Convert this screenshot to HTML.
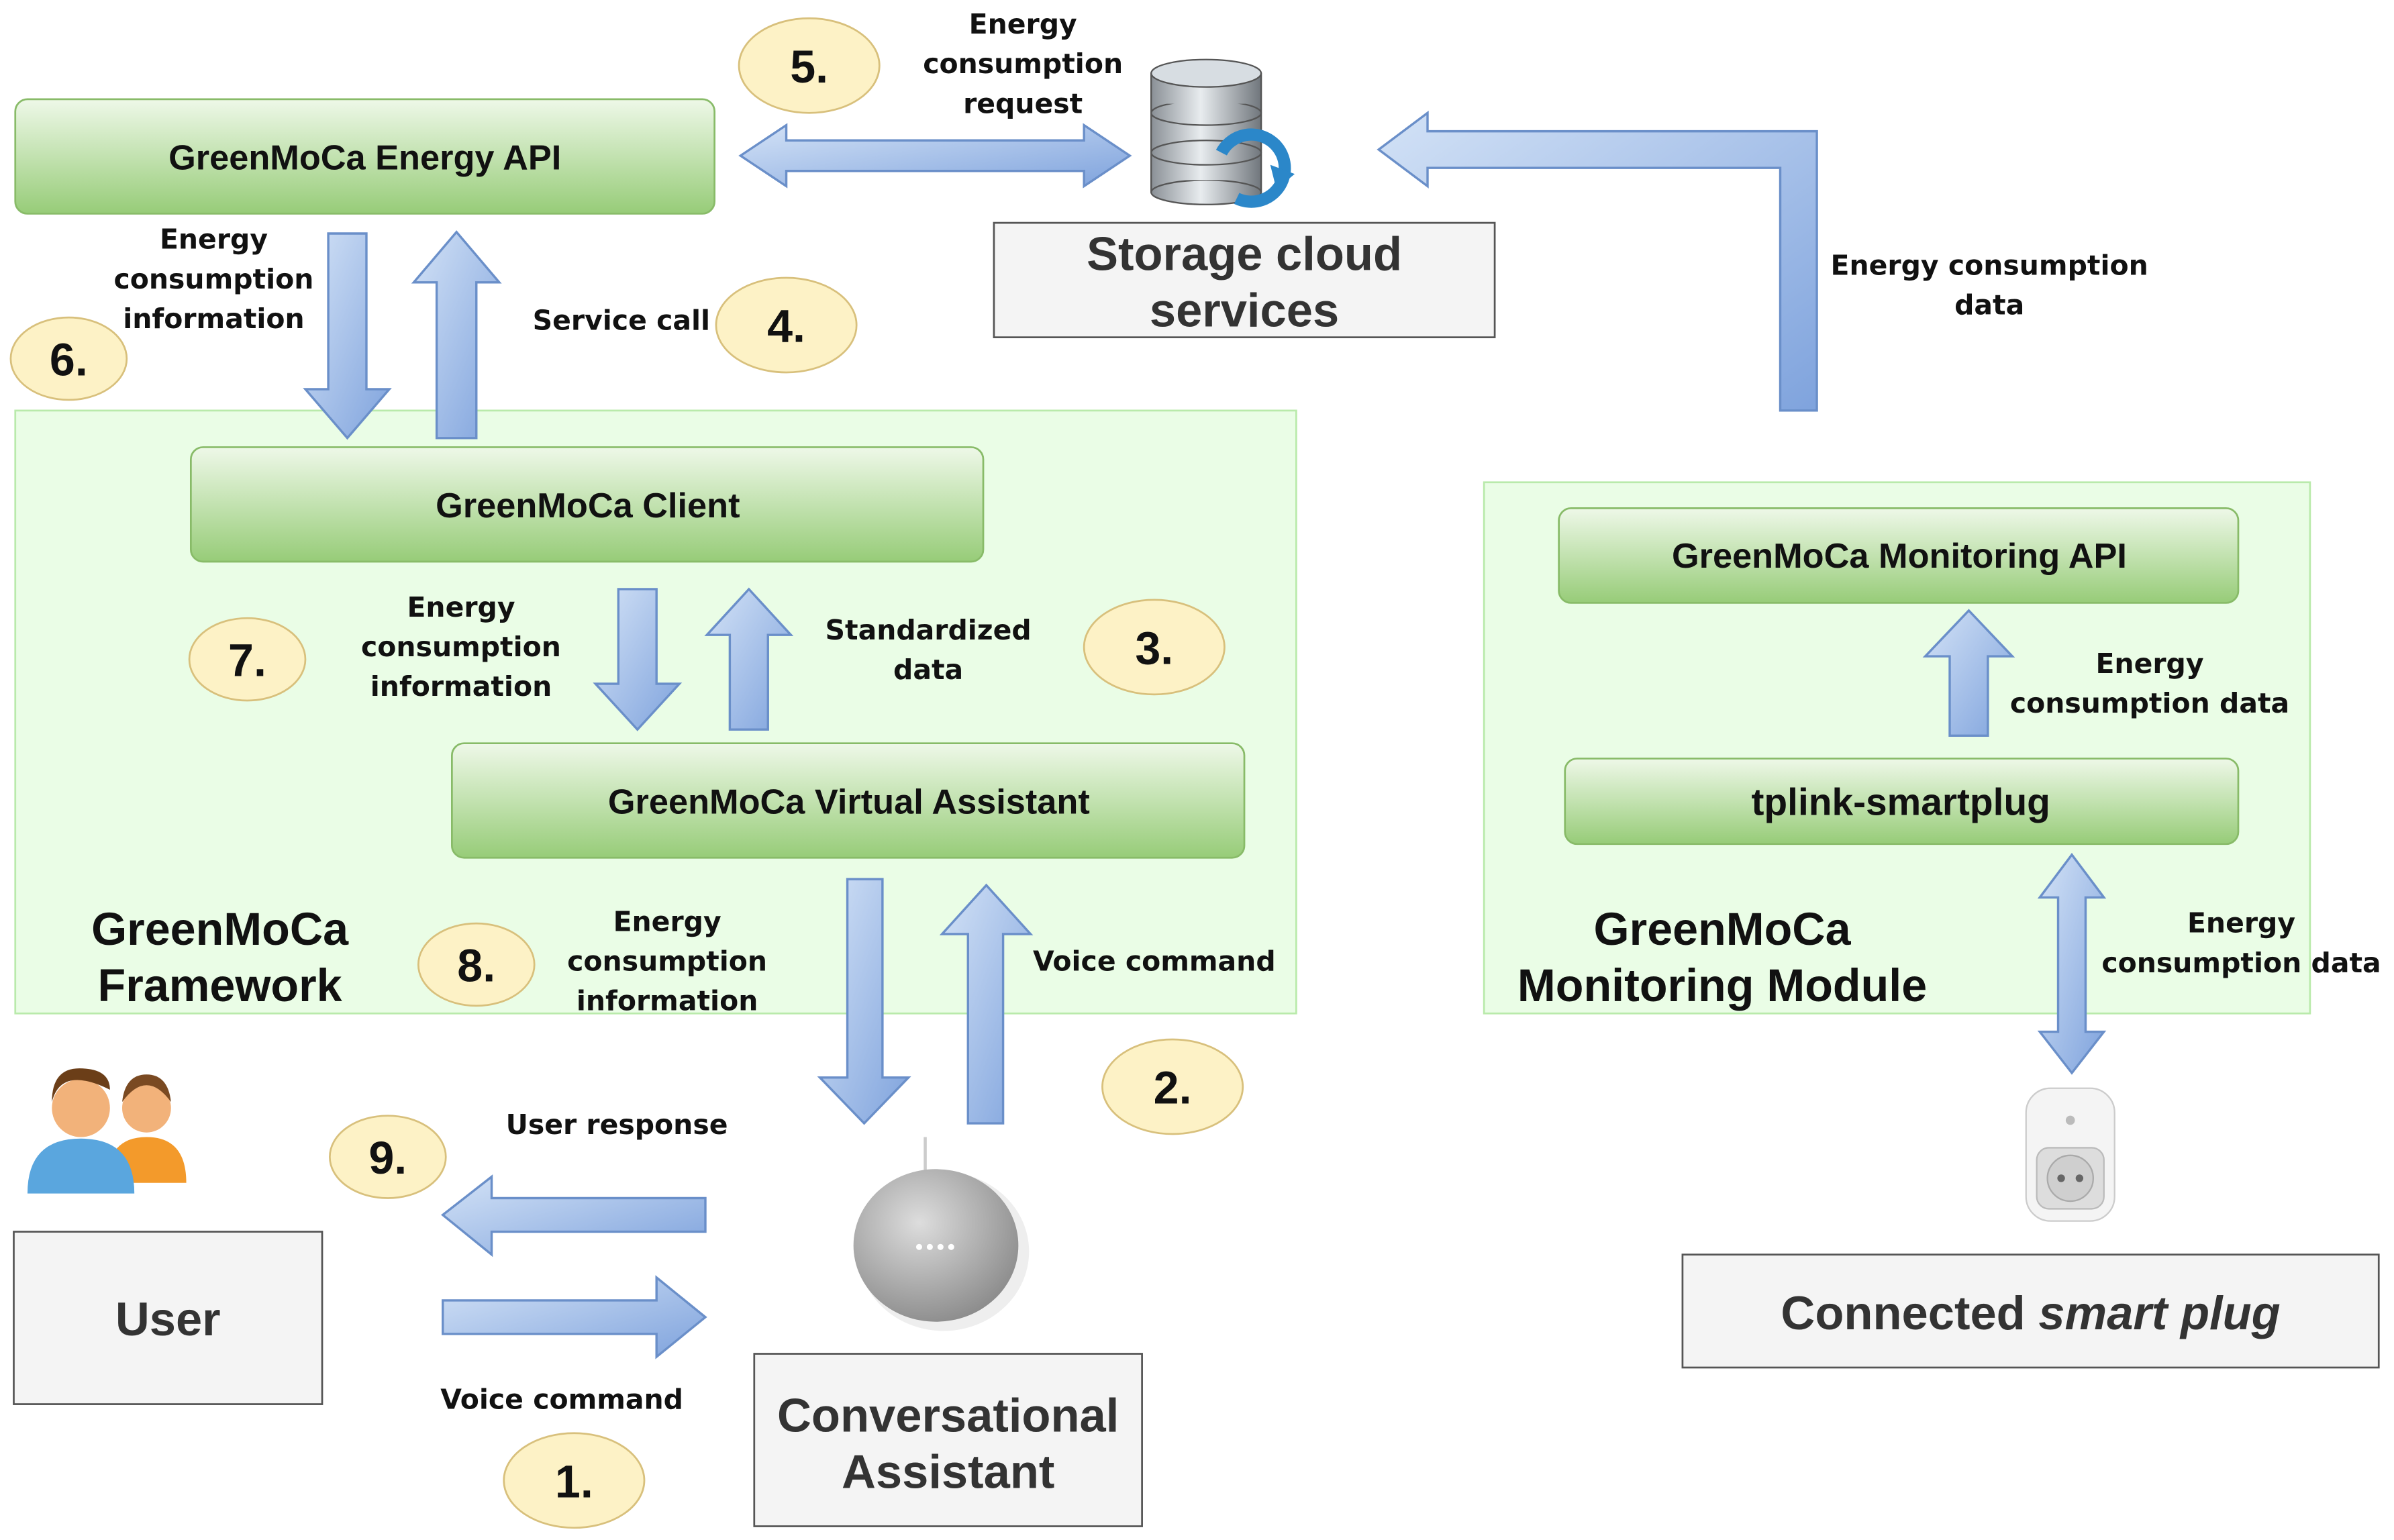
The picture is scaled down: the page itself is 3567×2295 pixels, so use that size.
<!DOCTYPE html>
<html><head><meta charset="utf-8"><style>
html,body{margin:0;padding:0;background:#fff}
svg{display:block}
.t{font-family:"DejaVu Sans","Liberation Sans",sans-serif;font-weight:bold;font-size:18px;fill:#111}
.b{font-family:"Liberation Sans",sans-serif;font-weight:bold;font-size:23px;fill:#111}
.g{font-family:"Liberation Sans",sans-serif;font-weight:bold;font-size:31px;fill:#333}
.n{font-family:"Liberation Sans",sans-serif;font-weight:bold;font-size:30px;fill:#111}
.m{font-family:"Liberation Sans",sans-serif;font-weight:bold;font-size:30px;fill:#111}
</style></head><body>
<svg width="3567" height="2295" viewBox="0 0 1568 1009" preserveAspectRatio="none" xmlns="http://www.w3.org/2000/svg">
<defs>
<linearGradient id="gr" x1="0" y1="0" x2="0" y2="1"><stop offset="0" stop-color="#eef8e8"/><stop offset="1" stop-color="#97cc78"/></linearGradient>
<linearGradient id="bl" x1="0" y1="0" x2="1" y2="1"><stop offset="0" stop-color="#d3e2f6"/><stop offset="1" stop-color="#7fa3dd"/></linearGradient>
<linearGradient id="db" x1="0" y1="0" x2="1" y2="0"><stop offset="0" stop-color="#8a9096"/><stop offset=".45" stop-color="#e8ecef"/><stop offset="1" stop-color="#70767c"/></linearGradient>
<radialGradient id="sp" cx=".4" cy=".35" r=".7"><stop offset="0" stop-color="#ddd"/><stop offset="1" stop-color="#8a8a8a"/></radialGradient>
</defs>
<rect width="1568" height="1009" fill="#fff"/>
<rect x="10" y="269" width="839" height="395" fill="#eafde6" stroke="#b9eaab" stroke-width="1.2"/>
<rect x="972" y="316" width="541" height="348" fill="#eafde6" stroke="#b9eaab" stroke-width="1.2"/>
<g fill="url(#gr)" stroke="#88bb68" stroke-width="1.2">
<rect x="10" y="65" width="458" height="75" rx="8"/>
<rect x="125" y="293" width="519" height="75" rx="8"/>
<rect x="296" y="487" width="519" height="75" rx="8"/>
<rect x="1021" y="333" width="445" height="62" rx="8"/>
<rect x="1025" y="497" width="441" height="56" rx="8"/>
</g>
<g class="b" text-anchor="middle">
<text x="239" y="111">GreenMoCa Energy API</text>
<text x="385" y="339">GreenMoCa Client</text>
<text x="556" y="533">GreenMoCa Virtual Assistant</text>
<text x="1244" y="372">GreenMoCa Monitoring API</text>
<text x="1245" y="534" font-size="25">tplink-smartplug</text>
</g>
<g fill="#f4f4f4" stroke="#555" stroke-width="1.2">
<rect x="651" y="146" width="328" height="75"/>
<rect x="9" y="807" width="202" height="113"/>
<rect x="494" y="887" width="254" height="113"/>
<rect x="1102" y="822" width="456" height="74"/>
</g>
<g class="g" text-anchor="middle">
<text x="815" y="177">Storage cloud</text><text x="815" y="214">services</text>
<text x="110" y="875">User</text>
<text x="621" y="938">Conversational</text><text x="621" y="975">Assistant</text>
<text x="1330" y="871">Connected <tspan font-style="italic">smart plug</tspan></text>
</g>
<g class="m" text-anchor="middle">
<text x="144" y="619">GreenMoCa</text><text x="144" y="656">Framework</text>
<text x="1128" y="619">GreenMoCa</text><text x="1128" y="656">Monitoring Module</text>
</g>
<g fill="url(#bl)" stroke="#6a8fc9" stroke-width="1.5" stroke-linejoin="miter">
<polygon points="215,153 240,153 240,255 255,255 227.5,287 200,255 215,255"/>
<polygon points="286,287 312,287 312,185 327,185 299,152 271,185 286,185"/>
<polygon points="485,102 515,82 515,92 710,92 710,82 740,102 710,122 710,112 515,112 515,122"/>
<polygon points="1166,269 1190,269 1190,86 935,86 935,74 903,98 935,122 935,110 1166,110"/>
<polygon points="405,386 430,386 430,448 445,448 417.5,478 390,448 405,448"/>
<polygon points="478,478 503,478 503,416 518,416 490.5,386 463,416 478,416"/>
<polygon points="555,576 578,576 578,706 595,706 566,736 537,706 555,706"/>
<polygon points="634,736 657,736 657,612 675,612 646,580 617,612 634,612"/>
<polygon points="462,785 462,807 322,807 322,822 290,796 322,771 322,785"/>
<polygon points="290,852 290,874 430,874 430,889 462,863 430,837 430,852"/>
<polygon points="1277,482 1302,482 1302,430 1318,430 1289.5,400 1261,430 1277,430"/>
<polygon points="1357,560 1378,588 1366,588 1366,676 1378,676 1357,703 1336,676 1348,676 1348,588 1336,588"/>
</g>
<g fill="#fdf2c6" stroke="#d8c07c" stroke-width="1.2">
<ellipse cx="530" cy="43" rx="46" ry="31"/>
<ellipse cx="515" cy="213" rx="46" ry="31"/>
<ellipse cx="45" cy="235" rx="38" ry="27"/>
<ellipse cx="162" cy="432" rx="38" ry="27"/>
<ellipse cx="756" cy="424" rx="46" ry="31"/>
<ellipse cx="312" cy="632" rx="38" ry="27"/>
<ellipse cx="768" cy="712" rx="46" ry="31"/>
<ellipse cx="254" cy="758" rx="38" ry="27"/>
<ellipse cx="376" cy="970" rx="46" ry="31"/>
</g>
<g class="n" text-anchor="middle">
<text x="530" y="54">5.</text><text x="515" y="224">4.</text><text x="45" y="246">6.</text>
<text x="162" y="443">7.</text><text x="756" y="435">3.</text><text x="312" y="643">8.</text>
<text x="768" y="723">2.</text><text x="254" y="769">9.</text><text x="376" y="981">1.</text>
</g>
<g class="t" text-anchor="middle">
<text x="670" y="22">Energy</text><text x="670" y="48">consumption</text><text x="670" y="74">request</text>
<text x="140" y="163">Energy</text><text x="140" y="189">consumption</text><text x="140" y="215">information</text>
<text x="407" y="216">Service call</text>
<text x="1303" y="180">Energy consumption</text><text x="1303" y="206">data</text>
<text x="302" y="404">Energy</text><text x="302" y="430">consumption</text><text x="302" y="456">information</text>
<text x="608" y="419">Standardized</text><text x="608" y="445">data</text>
<text x="1408" y="441">Energy</text><text x="1408" y="467">consumption data</text>
<text x="437" y="610">Energy</text><text x="437" y="636">consumption</text><text x="437" y="662">information</text>
<text x="756" y="636">Voice command</text>
<text x="1468" y="611">Energy</text><text x="1468" y="637">consumption data</text>
<text x="404" y="743">User response</text>
<text x="368" y="923">Voice command</text>
</g>
<g stroke="#555" stroke-width="1">
<rect x="754" y="48" width="72" height="78" fill="url(#db)"/>
<ellipse cx="790" cy="126" rx="36" ry="8" fill="url(#db)"/>
<rect x="754" y="48" width="72" height="70" fill="url(#db)" stroke="none"/>
<ellipse cx="790" cy="100" rx="36" ry="8" fill="url(#db)"/>
<ellipse cx="790" cy="74" rx="36" ry="8" fill="url(#db)"/>
<rect x="754" y="48" width="72" height="20" fill="url(#db)" stroke="none"/>
<ellipse cx="790" cy="48" rx="36" ry="9" fill="#d7dde2"/>
<line x1="754" y1="48" x2="754" y2="126"/><line x1="826" y1="48" x2="826" y2="126"/>
</g>
<path d="M800,100 a22,22 0 1,1 10,30" fill="none" stroke="#2b87c9" stroke-width="8"/>
<polygon points="832,108 848,114 836,124" fill="#2b87c9"/>
<circle cx="96" cy="726" r="16" fill="#f2b27a"/><path d="M80,722 q16,-22 32,0 q-2,-18 -16,-18 q-14,0 -16,18z" fill="#7a4a22"/>
<path d="M70,775 q0,-30 26,-30 q26,0 26,30z" fill="#f39a2b"/>
<circle cx="53" cy="726" r="19" fill="#f2b27a"/><path d="M34,722 q6,-24 38,-8 q0,-14 -20,-14 q-18,0 -18,22z" fill="#6b3e18"/>
<path d="M18,782 q0,-36 35,-36 q35,0 35,36z" fill="#5aa6de"/>
<line x1="606" y1="745" x2="606" y2="782" stroke="#ccc" stroke-width="2"/>
<ellipse cx="618" cy="820" rx="56" ry="52" fill="#eee"/>
<ellipse cx="613" cy="816" rx="54" ry="50" fill="url(#sp)"/>
<g fill="#fff"><circle cx="602" cy="817" r="2"/><circle cx="609" cy="817" r="2"/><circle cx="616" cy="817" r="2"/><circle cx="623" cy="817" r="2"/></g>
<rect x="1327" y="713" width="58" height="87" rx="16" fill="#f4f4f4" stroke="#ccc"/>
<rect x="1334" y="752" width="44" height="40" rx="8" fill="#ddd" stroke="#bbb"/>
<circle cx="1356" cy="772" r="15" fill="#cfcfcf" stroke="#aaa"/>
<circle cx="1350" cy="772" r="2.5" fill="#666"/><circle cx="1362" cy="772" r="2.5" fill="#666"/>
<circle cx="1356" cy="734" r="3" fill="#bbb"/>
</svg>
</body></html>
